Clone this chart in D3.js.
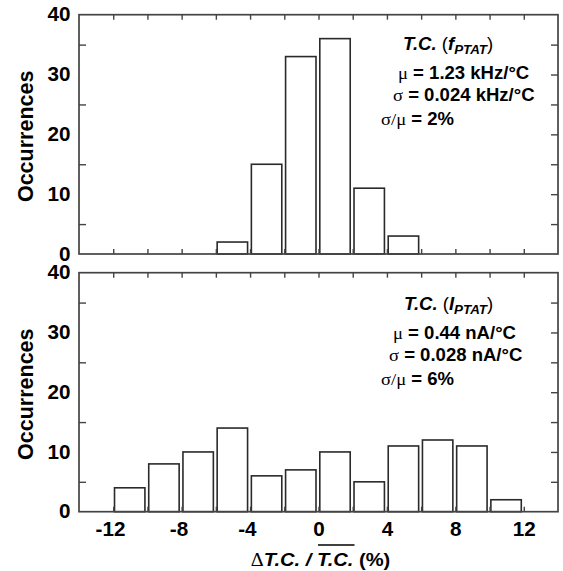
<!DOCTYPE html>
<html>
<head>
<meta charset="utf-8">
<script src="https://cdn.jsdelivr.net/npm/d3@7"></script>
<style>
  body{margin:0;background:#fff;}
</style>
</head>
<body>
<div class="container"></div>
<script>
// histogram bins (left edges, % deviation), bin width 2
const binStarts=[-12,-10,-8,-6,-4,-2,0,2,4,6,8,10];
const binWidth=2;
const fptatCounts=[0,0,0,2,15,33,36,11,3,0,0,0];
const iptatCounts=[4,8,10,14,6,7,10,5,11,12,11,2];

const xTickLabels=[-12,-8,-4,0,4,8,12];
const xMinorTicks=[-12,-10,-8,-6,-4,-2,0,2,4,6,8,10,12];
const yTickLabels=[0,10,20,30,40];
const yMinorLeft=[5,15,25,35];
const yMinorRight=[5,10,15,20,25,30,35];

const fptatNotes=[
  [{t:'T.C.',s:'bi'},{t:' (',s:'r'},{t:'f',s:'bi'},{t:'PTAT',s:'sub'},{t:')',s:'r',dy:-4}],
  [{t:'\u03bc',s:'g'},{t:' = 1.23 kHz/\u00b0C',s:'b'}],
  [{t:'\u03c3',s:'g'},{t:' = 0.024 kHz/\u00b0C',s:'b'}],
  [{t:'\u03c3/\u03bc',s:'g'},{t:' = 2%',s:'b'}]
];
const iptatNotes=[
  [{t:'T.C.',s:'bi'},{t:' (',s:'r'},{t:'I',s:'bi'},{t:'PTAT',s:'sub'},{t:')',s:'r',dy:-4}],
  [{t:'\u03bc',s:'g'},{t:' = 0.44 nA/\u00b0C',s:'b'}],
  [{t:'\u03c3',s:'g'},{t:' = 0.028 nA/\u00b0C',s:'b'}],
  [{t:'\u03c3/\u03bc',s:'g'},{t:' = 6%',s:'b'}]
];

const SANS="'Liberation Sans', Arial, Helvetica, sans-serif";
const SERIF="'Liberation Serif', 'Times New Roman', serif";
const stretch=1.06;
const frameColor="#444";

const svg=d3.select('.container').append('svg')
  .attr('width',563)
  .attr('height',571);

const x=d3.scaleLinear().domain([-14,14]).range([79,558]);

let styleSpan=(sp,p,size)=>{
  sp.attr('font-size',size);
  if(p.s==='g'){
    sp.attr('font-family',SERIF).attr('font-weight','normal');
  }else if(p.s==='r'){
    sp.attr('font-family',SANS).attr('font-weight','normal');
  }else if(p.s==='b'){
    sp.attr('font-family',SANS).attr('font-weight','bold');
  }else if(p.s==='bi'){
    sp.attr('font-family',SANS).attr('font-weight','bold').attr('font-style','italic');
  }else if(p.s==='sub'){
    sp.attr('font-family',SANS).attr('font-weight','bold').attr('font-style','italic')
      .attr('font-size',size*0.72).attr('dy',4);
  }
  if(p.dy) sp.attr('dy',p.dy);
};

let richText=(parent,px,py,parts,size,anchor)=>{
  let g=parent.append('g').attr('transform',`translate(${px},${py}) scale(${stretch},1)`);
  let t=g.append('text').attr('text-anchor',anchor||'start').attr('fill','#000');
  parts.forEach(p=>{
    let sp=t.append('tspan').text(p.t);
    styleSpan(sp,p,size);
    if(p.over){
      sp.classed('over',true);
    }
  });
  return g;
};

let addAxis=(g,axis,tx,ty)=>{
  let a=g.append('g').attr('transform',`translate(${tx},${ty})`).call(axis);
  a.select('.domain').remove();
  a.selectAll('line').attr('stroke',frameColor).attr('stroke-width',1.4);
  return a;
};

let panels=[
  {counts:fptatCounts,top:14.7,bottom:254,notes:fptatNotes,
   noteX:[403,398,393,381],noteY:[50,79,101,125],labels:false},
  {counts:iptatCounts,top:272.7,bottom:511.7,notes:iptatNotes,
   noteX:[404,393,389,381],noteY:[310,339,361,385],labels:true}
];

panels.forEach(p=>{
  let y=d3.scaleLinear().domain([0,40]).range([p.bottom,p.top]);
  let g=svg.append('g');

  let bins=binStarts.map((b,i)=>({x0:b,x1:b+binWidth,n:p.counts[i]})).filter(d=>d.n>0);
  g.selectAll('rect.bar').data(bins).join('rect')
    .attr('class','bar')
    .attr('x',d=>x(d.x0)+1.3)
    .attr('width',d=>x(d.x1)-x(d.x0)-3.8)
    .attr('y',d=>y(d.n))
    .attr('height',d=>y(0)-y(d.n))
    .attr('fill','#fff')
    .attr('stroke','#2a2a2a')
    .attr('stroke-width',1.6);

  // inward ticks on all four sides
  addAxis(g,d3.axisBottom(x).tickValues(xMinorTicks).tickSizeInner(-5).tickSizeOuter(0).tickFormat(''),0,p.bottom);
  addAxis(g,d3.axisTop(x).tickValues(xMinorTicks).tickSizeInner(-5).tickSizeOuter(0).tickFormat(''),0,p.top);
  addAxis(g,d3.axisLeft(y).tickValues(yMinorLeft).tickSizeInner(-7).tickSizeOuter(0).tickFormat(''),x(-14),0);
  addAxis(g,d3.axisRight(y).tickValues(yMinorRight).tickSizeInner(-7).tickSizeOuter(0).tickFormat(''),x(14),0);

  let yl=addAxis(g,d3.axisLeft(y).tickValues(yTickLabels).tickSize(0).tickPadding(8).tickFormat(d=>String(d)),x(-14),0);
  yl.selectAll('text')
    .attr('font-family',SANS).attr('font-weight','bold').attr('font-size',19.5).attr('fill','#000')
    .attr('transform',`scale(${stretch},1)`);

  if(p.labels){
    let xl=addAxis(g,d3.axisBottom(x).tickValues(xTickLabels).tickSize(0).tickPadding(10).tickFormat(d=>String(d)),0,p.bottom);
    xl.selectAll('text')
      .attr('font-family',SANS).attr('font-weight','bold').attr('font-size',19.5).attr('fill','#000')
      .attr('dx',d=>d<0?-3:0)
      .attr('transform',`scale(${stretch},1)`);
  }

  g.append('rect')
    .attr('x',x(-14)).attr('y',y(40))
    .attr('width',x(14)-x(-14)).attr('height',y(0)-y(40))
    .attr('fill','none').attr('stroke',frameColor).attr('stroke-width',1.7);

  g.append('text')
    .attr('transform',`translate(33,${(p.top+p.bottom)/2+2}) rotate(-90)`)
    .attr('text-anchor','middle')
    .attr('font-family',SANS).attr('font-weight','bold').attr('font-size',21.5)
    .text('Occurrences');

  p.notes.forEach((line,i)=>{
    richText(g,p.noteX[i],p.noteY[i],line,17.5,'start');
  });
});

// x axis title with overlined mean
let title=richText(svg,320.5,566,[
  {t:'\u0394',s:'g'},{t:'T.C.',s:'bi'},{t:' / ',s:'bi'},{t:'T.C.',s:'bi',over:true},{t:' (%)',s:'b'}
],19,'middle');
title.selectAll('tspan.over').each(function(){
  let n=this.getNumberOfChars();
  let s=this.getStartPositionOfChar(0).x;
  let e=this.getEndPositionOfChar(n-1).x;
  title.append('line')
    .attr('x1',s+1).attr('x2',e+1)
    .attr('y1',-21).attr('y2',-21)
    .attr('stroke','#000').attr('stroke-width',1.6);
});
</script>
</body>
</html>
